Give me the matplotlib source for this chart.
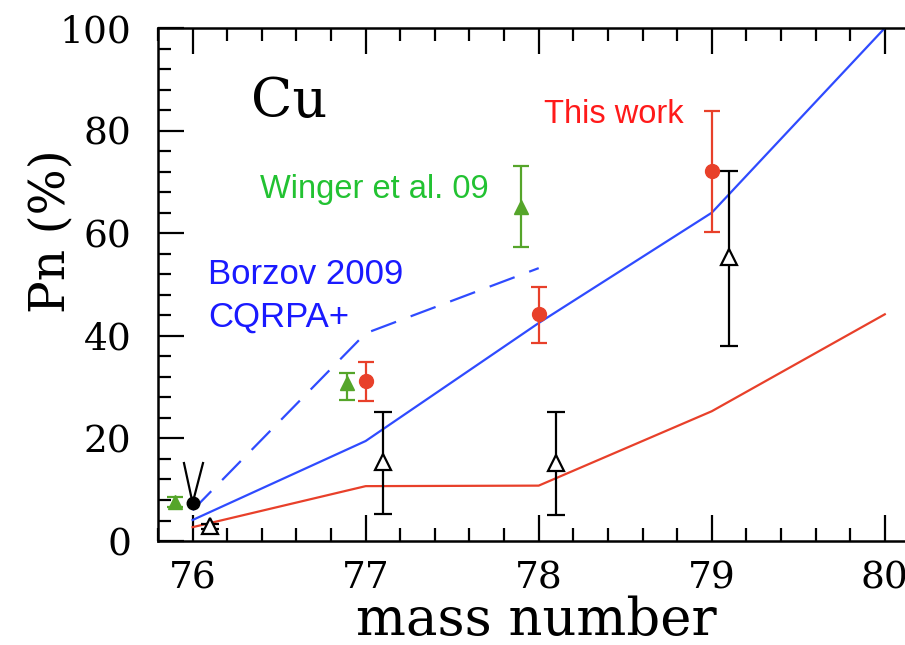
import numpy as np
import matplotlib.pyplot as plt
from matplotlib.ticker import MultipleLocator

# Cálculos teóricos (Borzov 2009)
masa_teo = [76, 77, 78, 79, 80]
pn_cqrpa = [4.1, 19.5, 42.5, 64.0, 100.0]
masa_dfs = [76, 77, 78]
pn_dfs = [6.0, 40.5, 53.2]
pn_rojo = [2.7, 10.7, 10.8, 25.3, 44.2]

# Este trabajo
masa_ew = [77.0, 78.0, 79.0]
pn_ew = [31.2, 44.2, 72.1]
err_ew_bajo = [3.9, 5.6, 11.9]
err_ew_alto = [3.7, 5.3, 11.7]

# Winger et al. 09
masa_wi = [75.9, 76.89, 77.9]
pn_wi = [7.6, 30.8, 65.1]
err_wi_bajo = [0.9, 3.3, 7.8]
err_wi_alto = [0.9, 2.0, 8.0]

# Otros datos (triángulos abiertos)
masa_ot = [76.1, 77.1, 78.1, 79.1]
pn_ot = [2.9, 15.4, 15.2, 55.4]
err_ot_bajo = [0.5, 10.1, 10.1, 17.4]
err_ot_alto = [0.5, 9.7, 9.9, 16.7]

# Punto en 76 con límite en forma de V
masa_v = [75.95, 76.0, 76.06]
pn_v = [15.2, 7.4, 15.2]

fig = plt.figure(figsize=(9.05, 6.45), dpi=100)
ax = fig.add_axes([0.1746, 0.1612, 0.87, 0.7953])

azul = '#2f4bff'
rojo = '#e8402a'
verde = '#55a52a'

ax.plot(masa_teo, pn_cqrpa, color=azul, lw=1.6)
ax.plot(masa_dfs, pn_dfs, color=azul, lw=1.6, dashes=(12, 7))
ax.plot(masa_teo, pn_rojo, color=rojo, lw=1.6)

ax.errorbar(masa_ew, pn_ew, yerr=[err_ew_bajo, err_ew_alto], fmt='o', color=rojo,
            ms=10, lw=1.6, capsize=6, capthick=1.6)
ax.errorbar(masa_wi, pn_wi, yerr=[err_wi_bajo, err_wi_alto], fmt='^', color=verde,
            ms=10, lw=1.6, capsize=6, capthick=1.6)
ax.errorbar(masa_ot, pn_ot, yerr=[err_ot_bajo, err_ot_alto], fmt='^', color='black',
            mfc='white', mec='black', mew=1.6, ms=11, lw=1.6, capsize=6.5, capthick=1.6)
ax.plot(masa_v, pn_v, color='black', lw=1.6)
ax.plot([masa_v[1]], [pn_v[1]], 'o', color='black', ms=9)

ax.set_xlim(75.8, 80.35)
ax.set_ylim(0, 100)
ax.xaxis.set_major_locator(MultipleLocator(1))
ax.xaxis.set_minor_locator(MultipleLocator(0.2))
ax.yaxis.set_major_locator(MultipleLocator(20))
ax.yaxis.set_minor_locator(MultipleLocator(4))
ax.tick_params(which='both', direction='in', top=True, right=True, width=1.6)
ax.tick_params(which='major', length=19)
ax.tick_params(which='minor', length=9.5)
ax.tick_params(axis='x', pad=14)
ax.tick_params(axis='y', pad=19)
for s in ax.spines.values():
    s.set_linewidth(1.8)

for lab in ax.get_xticklabels() + ax.get_yticklabels():
    lab.set_family('DejaVu Serif')
    lab.set_fontsize(27)

ax.set_xlabel('mass number', family='DejaVu Serif', fontsize=38, va='baseline')
ax.xaxis.set_label_coords(0.48, -0.183)
ax.set_ylabel('Pn (%)', family='DejaVu Serif', fontsize=35)
ax.yaxis.set_label_coords(-0.106, 0.604)

ax.text(76.335, 82.65, 'Cu', family='DejaVu Serif', fontsize=39, va='baseline')
ax.text(78.03, 81.5, 'This work', family='Liberation Sans', fontsize=23.5,
        color='#ff1a1a', va='baseline')
ax.text(76.39, 66.9, 'Winger et al. 09', family='Liberation Sans', fontsize=23.5,
        color='#22c232', va='baseline')
ax.text(76.09, 50.1, 'Borzov 2009', family='Liberation Sans', fontsize=25,
        color='#1a1aff', va='baseline')
ax.text(76.09, 41.7, 'CQRPA+', family='Liberation Sans', fontsize=25,
        color='#1a1aff', va='baseline')

fig.savefig('out.png', dpi=100)
